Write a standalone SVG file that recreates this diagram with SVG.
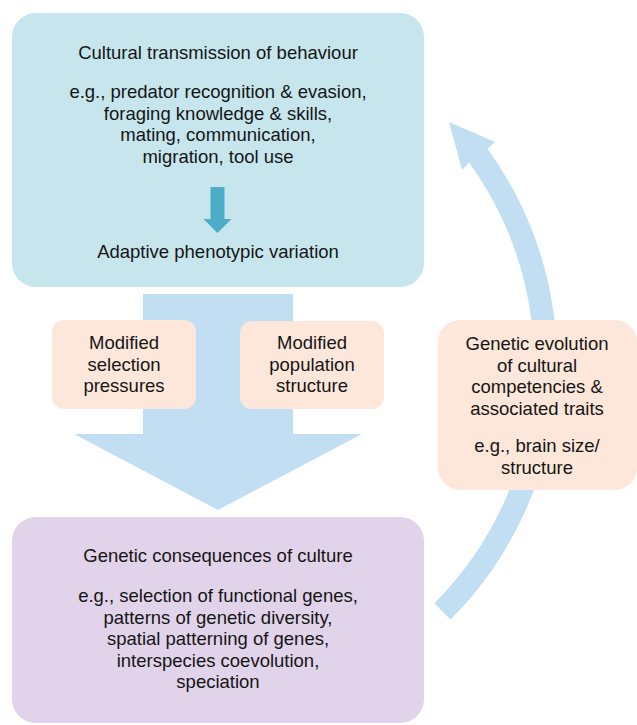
<svg xmlns="http://www.w3.org/2000/svg" width="637" height="725" viewBox="0 0 637 725">
<style>
text{font-family:"Liberation Sans",Arial,Helvetica,sans-serif;font-size:18.5px;fill:#151515;text-anchor:middle}
.arrow{fill:#c2def2}
</style>
<rect width="637" height="725" fill="#ffffff"/>
<g id="connectors">
<path class="arrow" d="M143 294 H293 V434 H362 L218 510 L74 434 H143 Z"/>
<path class="arrow" d="M450.5 619.6 A363.5 363.5 0 0 0 487.6 148.9 L495 142 L449 122 L462 170 L469 162.5 A340.5 340.5 0 0 1 434.3 603.4 Z"/>
</g>
<g id="cultural-transmission">
<rect x="12" y="13" width="412" height="274" rx="24" fill="#c7e5ec"/>
<text x="218" y="59">Cultural transmission of behaviour</text>
<text x="218" y="98">e.g., predator recognition &amp; evasion,</text>
<text x="218" y="119.5">foraging knowledge &amp; skills,</text>
<text x="218" y="141">mating, communication,</text>
<text x="218" y="162.5">migration, tool use</text>
<path d="M210.5 187 H224.5 V219 H231.5 L217.5 233 L203.5 219 H210.5 Z" fill="#4badc7"/>
<text x="218" y="258">Adaptive phenotypic variation</text>
</g>
<g id="selection-pressures">
<rect x="52" y="320" width="144" height="89" rx="12" fill="#fde7da"/>
<text x="124" y="349">Modified</text>
<text x="124" y="370.5">selection</text>
<text x="124" y="392">pressures</text>
</g>
<g id="population-structure">
<rect x="240" y="321" width="144" height="88" rx="12" fill="#fde7da"/>
<text x="312" y="349">Modified</text>
<text x="312" y="370.5">population</text>
<text x="312" y="392">structure</text>
</g>
<g id="genetic-evolution">
<rect x="438" y="320" width="199" height="170" rx="22" fill="#fde7da"/>
<text x="537" y="350">Genetic evolution</text>
<text x="537" y="371.5">of cultural</text>
<text x="537" y="393">competencies &amp;</text>
<text x="537" y="414.5">associated traits</text>
<text x="537" y="452">e.g., brain size/</text>
<text x="537" y="473.5">structure</text>
</g>
<g id="genetic-consequences">
<rect x="12" y="517" width="412" height="206" rx="24" fill="#e1d3ea"/>
<text x="218" y="562">Genetic consequences of culture</text>
<text x="218" y="602">e.g., selection of functional genes,</text>
<text x="218" y="623.5">patterns of genetic diversity,</text>
<text x="218" y="645">spatial patterning of genes,</text>
<text x="218" y="666.5">interspecies coevolution,</text>
<text x="218" y="688">speciation</text>
</g>
</svg>
